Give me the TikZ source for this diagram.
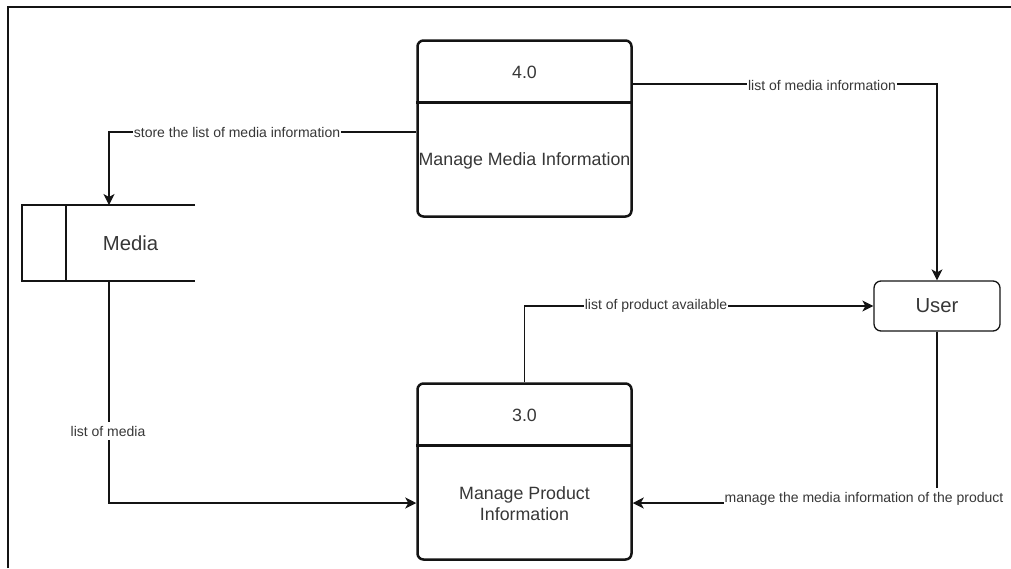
\documentclass[tikz,border=0pt]{standalone}
\usepackage{fontspec}
\setmainfont{Liberation Sans}
\usetikzlibrary{arrows.meta}

\definecolor{inkline}{RGB}{20,20,20}
\definecolor{inktext}{RGB}{55,55,55}

\tikzset{
  procbox/.style={draw=inkline, line width=2.5pt, rounded corners=6pt,
    minimum width=214pt, minimum height=176pt, inner sep=0pt},
  procline/.style={draw=inkline, line width=2.5pt},
  proctext/.style={text=inktext, font=\fontsize{17.8}{21}\selectfont, align=center, inner sep=0pt},
  entitybox/.style={draw=inkline, line width=1.3pt, rounded corners=7pt,
    minimum width=126pt, minimum height=50pt, inner sep=0pt,
    text=inktext, font=\fontsize{20.3}{24}\selectfont},
  storeline/.style={draw=inkline, line width=1.3pt},
  storetext/.style={text=inktext, font=\fontsize{20.3}{24}\selectfont, inner sep=0pt},
  flow/.style={draw=inkline, line width=1.3pt,
    -{Stealth[length=11pt, width=11pt, inset=3pt]}},
  flowlabel/.style={fill=white, text=inktext, font=\fontsize{14}{16}\selectfont,
    inner xsep=1pt, inner ysep=4pt},
  frameline/.style={draw=inkline, line width=2pt},
}

\begin{document}
\begin{tikzpicture}[x=1pt, y=-1pt]
  \useasboundingbox (0,0) rectangle (1011,568);

  % outer frame (left and top edges)
  \draw[frameline] (8,568) -- (8,7) -- (1011,7);

  % process 4.0
  \node[procbox] (p4) at (524.5,128.5) {};
  \draw[procline] ([yshift=-63pt]p4.north west) -- ([yshift=-63pt]p4.north east);
  \node[proctext] (p4id) at ([yshift=-33pt]p4.north) {4.0};
  \node[proctext] (p4name) at ([yshift=-122pt]p4.north) {Manage Media Information};

  % process 3.0
  \node[procbox] (p3) at (524.5,471.5) {};
  \draw[procline] ([yshift=-63pt]p3.north west) -- ([yshift=-63pt]p3.north east);
  \node[proctext] (p3id) at ([yshift=-33pt]p3.north) {3.0};
  \node[proctext] (p3name) at ([yshift=-121pt]p3.north) {Manage Product\\Information};

  % data store Media (open on the right)
  \node[minimum width=173pt, minimum height=76pt, inner sep=0pt, outer sep=0pt] (media) at (108.5,243) {};
  \draw[storeline] (media.north east) -- (media.north west) -- (media.south west) -- (media.south east);
  \draw[storeline] ([xshift=44pt]media.north west) -- ([xshift=44pt]media.south west);
  \node[storetext] (mediatext) at (130.5,243) {Media};

  % external entity User
  \node[entitybox] (user) at (937,306) {User};

  % flow corners
  \coordinate (k1) at (109,132);
  \coordinate (k2) at (937,84);
  \coordinate (k4) at (937,503);
  \coordinate (k5) at (109,503);

  % flows
  \draw[flow] (p4.west |- k1) -- (k1) -- (media.north -| k1);
  \draw[flow] (p4.east |- k2) -- (k2) -- (user.north);
  \draw[flow] (p3.north) |- (user.west);
  \draw[flow] (user.south) -- (k4) -- (p3.east |- k4);
  \draw[flow] (media.south -| k5) -- (k5) -- (p3.west |- k5);

  % flow labels
  \node[flowlabel] (l1) at (237,132) {store the list of media information};
  \node[flowlabel] (l2) at (822,85) {list of media information};
  \node[flowlabel] (l3) at (656,306) {list of product available};
  \node[flowlabel] (l4) at (864,499) {manage the media information of the product};
  \node[flowlabel] (l5) at (108,431) {list of media};
\end{tikzpicture}
\end{document}
